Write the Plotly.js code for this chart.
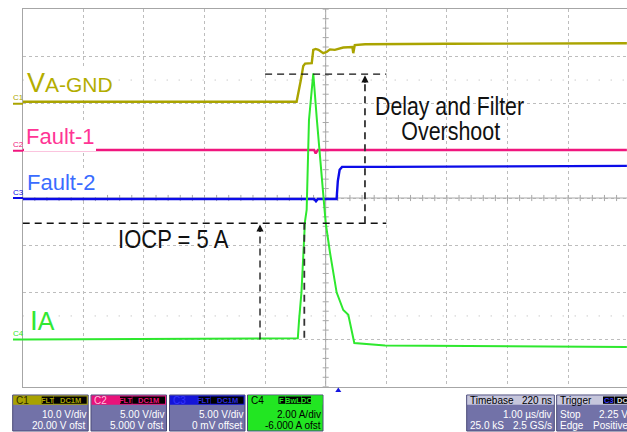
<!DOCTYPE html>
<html><head><meta charset="utf-8">
<script src="https://cdn.plot.ly/plotly-3.0.1.min.js"></script>
<style>html,body{margin:0;padding:0;background:#fff;overflow:hidden}#chart{width:627px;height:432px}</style>
</head><body><div id="chart"></div>
<script>
// ---------- DATA (time in µs, 1.00 µs/div, screen centre = 0) ----------
// C1 : VA-GND (V)
const c1Time  = [-5, -0.48, -0.41, -0.37, -0.34, -0.23, -0.205, -0.165, -0.12, -0.04, 0.02, 0.07, 0.15, 0.29, 0.44, 0.455, 0.48, 0.65, 2.0, 4.97];
const c1Volts = [0.4, 0.4, 5.0, 8.0, 8.5, 8.6, 11.4, 11.6, 11.4, 10.7, 11.0, 11.5, 11.4, 11.9, 12.0, 10.7, 12.4, 12.6, 12.7, 12.8];
// C2 : Fault-1 (V)
const c2Time  = [-5, -0.19, -0.165, -0.13, 4.97];
const c2Volts = [0.08, 0.08, -0.28, 0.08, 0.08];
// C3 : Fault-2 (V)
const c3Time  = [-5, -0.19, -0.16, -0.13, 0.18, 0.20, 0.23, 0.27, 1.0, 4.97];
const c3Volts = [-0.1, -0.1, -0.35, -0.1, -0.1, 1.8, 3.0, 3.3, 3.3, 3.4];
// C4 : IA (A)
const c4Time  = [-5, -0.46, -0.44, -0.40, -0.342, -0.314, -0.276, -0.205, -0.145, -0.023, 0.0, 0.07, 0.18, 0.29, 0.373, 0.472, 0.98, 4.97];
const c4Amps  = [0, 0.05, 0.8, 2.0, 5.0, 5.5, 9.3, 11.28, 9.3, 5.5, 4.95, 3.7, 2.0, 1.25, 1.05, -0.15, -0.25, -0.32];

// channel settings (per division / offset)
const chNames  = ['C1', 'C2', 'C3', 'C4'];
const chScale  = [10, 5, 5, 2];
const chOffset = [20, 5, 0, -6];
const chLabels = ['V<span style="font-size:21px">A-GND</span>', 'Fault-1', 'Fault-2', 'I<span style="font-size:25px">A</span>'];

// annotation levels (A on C4, time in µs)
const iocpLevel = 4.93;
const peakLevel = 11.25;
const noteTexts = ['IOCP = 5 A', 'Delay and Filter', 'Overshoot'];

// status bar texts
const chDivText  = ['10.0 V/div', '5.00 V/div', '5.00 V/div', '2.00 A/div'];
const chOfstText = ['20.00 V ofst', '5.000 V ofst', '0 mV offset', '-6.000 A ofst'];
const timebaseTexts = ['Timebase', '220 ns', '1.00 µs/div', '25.0 kS', '2.5 GS/s'];
const triggerTexts  = ['Trigger', 'Stop', '2.25 V', 'Edge', 'Positive'];

// ---------- STYLE ----------
const W = 627, H = 432;
const X = p => p / W;
const Y = p => 1 - p / H;
const colors   = ['#aaa400', '#f0167e', '#0c0ce8', '#2ee82e'];
const txtColor = ['#b3ad00', '#ff3595', '#3a6cff', '#33e833'];
const hdrColor = ['#a8a200', '#e8127a', '#1414d8', '#22e622'];
const bodyCol  = '#7272a8';
const FONT  = 'Liberation Sans, Arial, sans-serif';

const data = [
  {x: c1Time, y: c1Volts, yaxis: 'y2', name: chNames[0]},
  {x: c2Time, y: c2Volts, yaxis: 'y3', name: chNames[1]},
  {x: c3Time, y: c3Volts, yaxis: 'y4', name: chNames[2]},
  {x: c4Time, y: c4Amps,  yaxis: 'y5', name: chNames[3]}
].map((t, i) => Object.assign(t, {type: 'scatter', mode: 'lines', hoverinfo: 'skip',
  line: {color: colors[i], width: i === 3 ? 2 : 2.4}}));

const shapes = [];
const annotations = [];

// centre lines with minor ticks
shapes.push({type: 'line', xref: 'x', yref: 'y', x0: 0, x1: 0, y0: -4, y1: 4, layer: 'between', line: {color: '#a8a8a8', width: 1}});
shapes.push({type: 'line', xref: 'x', yref: 'y', x0: -5, x1: 5, y0: 0, y1: 0, layer: 'between', line: {color: '#a8a8a8', width: 1}});
for (let k = -25; k <= 25; k++) {
  shapes.push({type: 'line', xref: 'x', yref: 'y', x0: k * 0.2, x1: k * 0.2, y0: -0.065, y1: 0.065, layer: 'between', line: {color: '#a8a8a8', width: 1}});
}
for (let k = -20; k <= 20; k++) {
  shapes.push({type: 'line', xref: 'x', yref: 'y', x0: -0.05, x1: 0.05, y0: k * 0.2, y1: k * 0.2, layer: 'between', line: {color: '#a8a8a8', width: 1}});
}
// sparse dotted lines at +/-2.5 div
[2.5, -2.5].forEach(v => shapes.push({type: 'line', xref: 'x', yref: 'y', x0: -5, x1: 5, y0: v, y1: v, layer: 'between', line: {color: '#b4b4b4', width: 1, dash: '1px,11px'}}));

// white panels behind the black notes (hide the grid)
const panel = (x0, x1, y0, y1) => shapes.push({type: 'rect', xref: 'paper', yref: 'paper', x0: X(x0), x1: X(x1), y0: Y(y0), y1: Y(y1),
  layer: 'between', fillcolor: '#fff', line: {width: 0}});
panel(80, 237, 225, 257);
panel(371, 529, 92, 145);

// channel ground markers at the left edge
chNames.forEach((n, i) => {
  const ya = 'y' + (i + 2);
  shapes.push({type: 'line', xref: 'paper', yref: ya, x0: X(13), x1: X(23), y0: 0, y1: 0, line: {color: colors[i], width: 2}});
  annotations.push({xref: 'paper', yref: ya, x: X(11), y: 0, yshift: 6, xanchor: 'left', yanchor: 'middle', showarrow: false,
    text: n, font: {family: FONT, size: 8, color: colors[i]}});
});

// dashed annotation lines
const dash = (x0, x1, y0, y1, col, w) => shapes.push({type: 'line', xref: 'x', yref: 'y5', x0, x1, y0, y1,
  line: {color: col || '#111', width: w || 1.4, dash: '7px,5px'}});
dash(-1.0, 1.0, peakLevel, peakLevel);
dash(-5.0, 1.0, iocpLevel, iocpLevel);
dash(0.648, 0.648, iocpLevel, peakLevel - 0.25, '#333', 1.8);
dash(-0.353, -0.353, 0.07, iocpLevel, '#333', 1.8);
dash(-1.084, -1.084, 0, iocpLevel - 0.3, '#222', 1.4);
// arrowheads
[[0.648, peakLevel - 0.05], [-1.084, iocpLevel - 0.05]].forEach(p => annotations.push({
  xref: 'x', yref: 'y5', x: p[0], y: p[1], ax: 0, ay: 9, showarrow: true, arrowhead: 2, arrowsize: 1.1,
  arrowwidth: 1.3, arrowcolor: '#111', text: ''}));

// big labels
const lab = (t, px, py, size, col, anchor, bg) => annotations.push({xref: 'paper', yref: 'paper', x: X(px), y: Y(py),
  xanchor: anchor || 'left', yanchor: 'middle', showarrow: false, text: t, bgcolor: bg || 'rgba(0,0,0,0)', borderpad: bg ? 2 : 0, borderwidth: 0,
  font: {family: FONT, size, color: col}});
lab(chLabels[0], 25, 83, 27, txtColor[0], 'left', '#fff');
lab(chLabels[1], 24, 136.2, 22, txtColor[1], 'left', '#fff');
lab(chLabels[2], 25, 182, 22, txtColor[2], 'left', '#fff');
lab(chLabels[3], 28, 320.5, 28, txtColor[3], 'left', '#fff');
const narrowStart = annotations.length;
lab(noteTexts[0], 118, 238.5, 26, '#111', 'left');
lab(noteTexts[1], 449.5, 106, 25, '#111', 'center');
lab(noteTexts[2], 450.5, 131, 25, '#111', 'center');
const narrowWidths = [111, 149, 99];   // condensed lettering widths seen on the screen

// trigger position marker
shapes.push({type: 'path', xref: 'paper', yref: 'paper',
  path: `M${X(335.3)},${Y(392)} L${X(341.3)},${Y(392)} L${X(338.3)},${Y(387.5)} Z`, fillcolor: '#1414e0', line: {width: 0}});

// ---------- status bar ----------
const rect = (x0, x1, y0, y1, fill, lc) => shapes.push({type: 'rect', xref: 'paper', yref: 'paper',
  x0: X(x0), x1: X(x1), y0: Y(y0), y1: Y(y1), fillcolor: fill, line: {color: lc || 'rgba(0,0,0,0)', width: lc ? 1 : 0}});
const stxt = (t, px, py, col, anchor, size, bold) => annotations.push({xref: 'paper', yref: 'paper', x: X(px), y: Y(py),
  xanchor: anchor, yanchor: 'middle', showarrow: false, borderpad: 0, text: bold ? '<b>' + t + '</b>' : t,
  font: {family: FONT, size: size || 10, color: col}});
const tag = (t, x0, x1, col) => { rect(x0, x1, 396.5, 403.8, '#000'); stxt(t, (x0 + x1) / 2, 400.2, col, 'center', 7.5, true); };

const boxL = [12.7, 91, 169.5, 247.5];
boxL.forEach((bx, i) => {
  const br = bx + 75.5;
  const isC4 = i === 3;
  rect(bx, br, 395, 431, isC4 ? hdrColor[3] : bodyCol, '#4a4a78');
  rect(bx + 0.5, br - 0.5, 395.5, 404.8, hdrColor[i]);
  stxt(chNames[i], bx + 2, 400.2, isC4 ? '#000' : (i === 0 ? '#2c2a00' : (i === 1 ? '#ffc0de' : '#3434ff')), 'left', 10);
  if (isC4) {
    tag('F', 278.5, 285, hdrColor[3]); tag('BwL', 285.5, 301, hdrColor[3]); tag('DC', 301.5, 311, hdrColor[3]);
  } else {
    const tc = i === 2 ? '#2a2ae0' : hdrColor[i];
    tag('FLT', bx + 29, bx + 40.8, tc);
    tag('DC1M', bx + 41.3, br - 1.5, tc);
  }
  const tc = isC4 ? '#000' : '#fff';
  stxt(chDivText[i], br - 1.5, 414, tc, 'right');
  stxt(chOfstText[i], br - 1.5, 425.6, tc, 'right');
});
// timebase box
rect(466.7, 554.3, 395, 431, bodyCol, '#4a4a78');
rect(467.2, 553.8, 395.5, 404.8, '#c6c6dc');
stxt(timebaseTexts[0], 469, 400.2, '#000', 'left');
stxt(timebaseTexts[1], 553, 400.2, '#000', 'right');
stxt(timebaseTexts[2], 553, 414, '#fff', 'right');
stxt(timebaseTexts[3], 469, 425.6, '#fff', 'left');
stxt(timebaseTexts[4], 553, 425.6, '#fff', 'right');
// trigger box
rect(556.7, 640, 395, 431, bodyCol, '#4a4a78');
rect(557.2, 639.5, 395.5, 404.8, '#c6c6dc');
stxt(triggerTexts[0], 559, 400.2, '#000', 'left');
tag('C3', 603, 614, '#3a3aff');
tag('DC', 614.5, 630, '#ddd');
stxt(triggerTexts[1], 559, 414, '#fff', 'left');
stxt(triggerTexts[2], 629.5, 414, '#fff', 'right');
stxt(triggerTexts[3], 559, 425.6, '#fff', 'left');
stxt(triggerTexts[4], 629.5, 425.6, '#fff', 'right');

// ---------- axes ----------
const yDom = [Y(386.7), Y(9.3)];
const layout = {
  width: W, height: H, margin: {l: 0, r: 0, t: 0, b: 0}, paper_bgcolor: '#fff', plot_bgcolor: '#fff',
  showlegend: false,
  xaxis: {domain: [X(22.7), 1], range: [-5, 4.972], dtick: 1, tick0: 0, showgrid: true, gridcolor: '#bdbdbd', griddash: 'dot', gridwidth: 1,
    zeroline: false, showticklabels: false, ticks: '', showline: true, mirror: true, linecolor: '#a6a6a6', linewidth: 1, fixedrange: true},
  yaxis: {domain: yDom, range: [-4, 4], dtick: 1, tick0: 0, showgrid: true, gridcolor: '#bdbdbd', griddash: 'dot', gridwidth: 1,
    zeroline: false, showticklabels: false, ticks: '', showline: true, mirror: false, linecolor: '#a6a6a6', linewidth: 1, fixedrange: true},
  shapes, annotations
};
chNames.forEach((n, i) => {
  layout['yaxis' + (i + 2)] = {overlaying: 'y', domain: yDom, visible: false, fixedrange: true,
    range: [-4 * chScale[i] - chOffset[i], 4 * chScale[i] - chOffset[i]]};
});

Plotly.newPlot('chart', data, layout, {displayModeBar: false, staticPlot: true}).then(gd => {
  // condensed lettering: squeeze the three black notes horizontally
  const groups = gd.querySelectorAll('.annotation');
  groups.forEach(g => {
    const idx = +g.getAttribute('data-index') - narrowStart;
    if (idx < 0 || idx > 2) return;
    const t = g.querySelector('text.annotation-text');
    if (!t) return;
    const w = t.getBBox().width;
    const s = narrowWidths[idx] / w;
    t.style.transformBox = 'fill-box';
    t.style.transformOrigin = idx === 0 ? 'left center' : 'center center';
    t.style.transform = 'scaleX(' + s.toFixed(3) + ')';
  });
});
</script>
</body></html>
